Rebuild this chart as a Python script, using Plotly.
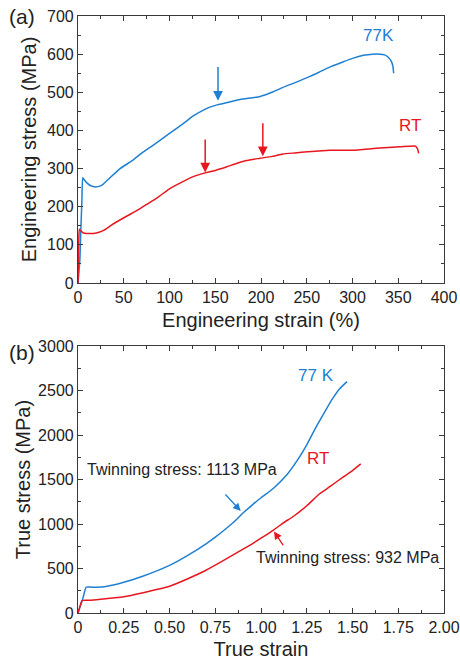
import plotly.graph_objects as go

# ---------------- data: (a) engineering curves ----------------
eng_77k_strain = [0, 2, 3, 4.3, 5.2, 7, 10, 14, 19, 24, 28, 35, 46, 60, 71, 85, 100, 115, 126, 136, 144,
                  152, 160, 177, 199, 212, 224, 238, 251, 263, 275, 288, 300, 312, 322, 330, 335, 339,
                  342, 344, 345]
eng_77k_stress = [0, 60, 130, 220, 276, 270, 262, 255, 252, 254, 260, 276, 300, 322, 343, 366, 392, 418,
                  438, 452, 461, 467, 471, 481, 489, 500, 513, 526, 539, 552, 566, 578, 589, 597, 600,
                  600, 598, 592, 583, 570, 550]

eng_rt_strain = [0, 0.8, 1.5, 3, 6, 10, 17, 23, 28, 38, 53, 65, 75, 88, 100, 113, 126, 138, 150, 162,
                 174, 184, 199, 212, 224, 237, 251, 275, 300, 326, 352, 368, 370, 371.5, 372.3]
eng_rt_stress = [0, 100, 141, 137, 131, 130, 130, 133, 138, 154, 175, 191, 206, 226, 247, 264, 279, 288,
                 295, 304, 314, 321, 327, 332, 338, 341, 344, 348, 348, 353, 357, 359, 356, 349, 340]

# ---------------- data: (b) true curves ----------------
true_77k_strain = [0, 0.02, 0.03, 0.045, 0.08, 0.13, 0.2, 0.25, 0.35, 0.5, 0.6, 0.7, 0.75, 0.85, 0.9,
                   0.95, 1.0, 1.07, 1.14, 1.2, 1.25, 1.3, 1.35, 1.39, 1.43, 1.47]
true_77k_stress = [0, 120, 190, 290, 290, 292, 318, 345, 410, 535, 648, 778, 852, 1020, 1120, 1210, 1295,
                   1405, 1550, 1720, 1890, 2085, 2265, 2405, 2520, 2600]

true_rt_strain = [0, 0.01, 0.022, 0.05, 0.1, 0.2, 0.25, 0.35, 0.5, 0.6, 0.7, 0.75, 0.85, 0.95, 1.0, 1.07,
                  1.12, 1.18, 1.25, 1.32, 1.38, 1.45, 1.5, 1.545]
true_rt_stress = [0, 70, 140, 142, 150, 170, 182, 225, 300, 385, 480, 537, 655, 775, 840, 935, 1010,
                  1090, 1205, 1340, 1425, 1530, 1600, 1675]

# arrows (head x, head y, tail y) for panel (a)
arrows_a = [(153, 478, 570, "blue"), (139, 290, 380, "red"), (202, 332, 423, "red")]

BLUE = "#1f80d2"
RED = "#e8161e"
FONT = "Liberation Sans, Arial, sans-serif"
AX = "#3a3a3a"

fig = go.Figure()
for xs, ys, c, xa, ya in [(eng_77k_strain, eng_77k_stress, BLUE, "x", "y"),
                          (eng_rt_strain, eng_rt_stress, RED, "x", "y"),
                          (true_77k_strain, true_77k_stress, BLUE, "x2", "y2"),
                          (true_rt_strain, true_rt_stress, RED, "x2", "y2")]:
    fig.add_trace(go.Scatter(x=xs, y=ys, mode="lines",
                             line=dict(color=c, width=1.5, shape="spline", smoothing=0.5),
                             xaxis=xa, yaxis=ya, showlegend=False))

def axis(rng, dtick, mdtick, domain, anchor, title, standoff):
    return dict(range=rng, dtick=dtick, tick0=0, domain=domain, anchor=anchor, automargin=False,
                showline=True, linecolor=AX, linewidth=1.2, mirror="allticks",
                ticks="inside", ticklen=5, tickwidth=1, tickcolor=AX,
                minor=dict(ticks="inside", ticklen=3, dtick=mdtick, tickcolor=AX, tickwidth=1),
                showgrid=False, zeroline=False,
                tickfont=dict(size=16, color="#222", family=FONT),
                title=dict(text=title, font=dict(size=20, color="#222", family=FONT), standoff=standoff))

yd_top = [(613 - 283) / 597, 1.0]
yd_bot = [0.0, (613 - 346) / 597]

fig.update_layout(
    width=460, height=663,
    margin=dict(l=78, r=16, t=16, b=50, autoexpand=False),
    paper_bgcolor="white", plot_bgcolor="white",
    font=dict(family=FONT, color="#222"),
    xaxis=axis([0, 400], 50, 25, [0, 1], "y", "Engineering strain (%)", 7),
    yaxis=axis([0, 700], 100, 50, yd_top, "x", "Engineering stress (MPa)", 4),
    xaxis2=axis([0, 2], 0.25, 0.125, [0, 1], "y2", "True strain", 6),
    yaxis2=axis([0, 3000], 500, 250, yd_bot, "x2", "True stress (MPa)", 2),
)
fig.layout.xaxis2.tickvals = [0, 0.25, 0.5, 0.75, 1.0, 1.25, 1.5, 1.75, 2.0]
fig.layout.xaxis2.ticktext = ["0", "0.25", "0.50", "0.75", "1.00", "1.25", "1.50", "1.75", "2.00"]

ann = []
for hx, hy, ty, c in arrows_a:
    ann.append(dict(x=hx, y=hy, ax=hx, ay=ty, xref="x", yref="y", axref="x", ayref="y", text="",
                    showarrow=True, arrowhead=2, arrowsize=1.3, arrowwidth=1.5,
                    arrowcolor=BLUE if c == "blue" else RED))
ann.append(dict(x=0.889, y=1146, ax=0.798, ay=1348, xref="x2", yref="y2", axref="x2", ayref="y2", text="",
                showarrow=True, arrowhead=2, arrowsize=1.2, arrowwidth=1.3, arrowcolor=BLUE))
ann.append(dict(x=1.071, y=917, ax=1.127, ay=742, xref="x2", yref="y2", axref="x2", ayref="y2", text="",
                showarrow=True, arrowhead=2, arrowsize=1.2, arrowwidth=1.3, arrowcolor=RED))
ann += [
    dict(x=328, y=650, xref="x", yref="y", text="77K", showarrow=False, font=dict(size=17, color=BLUE)),
    dict(x=363, y=412, xref="x", yref="y", text="RT", showarrow=False, font=dict(size=17, color=RED)),
    dict(x=1.30, y=2663, xref="x2", yref="y2", text="77 K", showarrow=False, font=dict(size=17, color=BLUE)),
    dict(x=1.313, y=1738, xref="x2", yref="y2", text="RT", showarrow=False, font=dict(size=17, color=RED)),
    dict(x=0.036, y=1615, xref="x2", yref="y2", text="Twinning stress: 1113 MPa", xanchor="left",
         showarrow=False, font=dict(size=16, color="#222")),
    dict(x=0.962, y=621, xref="x2", yref="y2", text="Twinning stress: 932 MPa", xanchor="left",
         showarrow=False, font=dict(size=16, color="#222")),
    dict(x=(22 - 78) / 366, y=(663 - 50 - 16) / 597, xref="paper", yref="paper", text="(a)",
         xanchor="center", yanchor="middle", showarrow=False, font=dict(size=21, color="#222")),
    dict(x=(22 - 78) / 366, y=(613 - 352) / 597, xref="paper", yref="paper", text="(b)",
         xanchor="center", yanchor="middle", showarrow=False, font=dict(size=21, color="#222")),
]
fig.update_layout(annotations=ann)

fig.write_html("out.html", config={"displayModeBar": False},
               post_script="document.body.style.margin='0';document.body.style.overflow='hidden';")
